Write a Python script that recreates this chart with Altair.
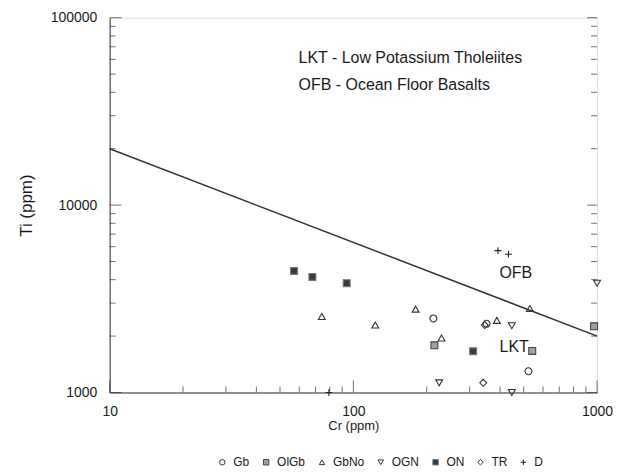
import altair as alt
import pandas as pd

# ---- data ----
types = ["Gb", "OlGb", "GbNo", "OGN", "ON", "TR", "D"]

gb_cr = [213, 352, 523]
gb_ti = [2484, 2327, 1298]
olgb_cr = [215, 542, 972]
olgb_ti = [1785, 1667, 2254]
gbno_cr = [74.2, 123, 180, 230, 388, 530]
gbno_ti = [2546, 2292, 2786, 1954, 2426, 2806]
ogn_cr = [225, 447, 447, 1000]
ogn_ti = [1126, 2270, 1000, 3832]
on_cr = [57.1, 67.9, 93.9, 310]
on_ti = [4456, 4140, 3832, 1658]
tr_cr = [341, 346]
tr_ti = [1126, 2290]
d_cr = [79.4, 392, 433]
d_ti = [1000, 5718, 5470]

# discriminant line LKT / OFB
line_cr = [10, 1000]
line_ti = [20000, 2000]

# axis tick values
x_major = [10, 100, 1000]
x_minor = [20, 30, 40, 50, 60, 70, 80, 90, 200, 300, 400, 500, 600, 700, 800, 900]
y_major = [1000, 10000, 100000]
y_minor = [2000, 3000, 4000, 5000, 6000, 7000, 8000, 9000,
           20000, 30000, 40000, 50000, 60000, 70000, 80000, 90000]

# annotations
note_text = ["LKT - Low Potassium Tholeiites", "OFB - Ocean Floor Basalts"]
note_cr = [59.6, 59.6]
note_ti = [61200, 44000]
field_text = ["OFB", "LKT"]
field_cr = [464, 457]
field_ti = [4365, 1750]

series = [
    ("Gb", gb_cr, gb_ti), ("OlGb", olgb_cr, olgb_ti), ("GbNo", gbno_cr, gbno_ti),
    ("OGN", ogn_cr, ogn_ti), ("ON", on_cr, on_ti), ("TR", tr_cr, tr_ti), ("D", d_cr, d_ti),
]
rows = []
for name, crs, tis in series:
    for c, t in zip(crs, tis):
        rows.append({"type": name, "Cr": c, "Ti": t})
pts = pd.DataFrame(rows)

FONT = "Liberation Sans"
INK = "#1a1a1a"

xs = alt.Scale(type="log", domain=[10, 1000], nice=False)
ys = alt.Scale(type="log", domain=[1000, 100000], nice=False)

shapes = ["circle", "square", "triangle-up", "triangle-down", "square", "diamond",
          "M-1,0L1,0M0,-1L0,1"]
fills = ["transparent", "#a0a0a0", "transparent", "transparent", "#3a3a3a",
         "transparent", "transparent"]
strokes = ["#333333", "#444444", "#333333", "#333333", "#777777", "#333333", "#222222"]

points = alt.Chart(pts).mark_point(size=48, strokeWidth=1.1, opacity=1, clip=False).encode(
    x=alt.X("Cr:Q", scale=xs,
            axis=alt.Axis(values=x_major, format="d", ticks=False, grid=False,
                          labelPadding=12, labelFontSize=14, labelFont=FONT,
                          labelColor=INK, title="Cr  (ppm)", titleFontSize=13,
                          titleFont=FONT, titleColor=INK, titleFontWeight="normal",
                          titlePadding=1, domainColor="#333", labelFlush=False)),
    y=alt.Y("Ti:Q", scale=ys,
            axis=alt.Axis(values=y_major, format="d", ticks=False, grid=False,
                          labelPadding=13, labelFontSize=14, labelFont=FONT,
                          labelColor=INK, title="Ti  (ppm)", titleFontSize=17,
                          titleFont=FONT, titleColor=INK, titleFontWeight="normal",
                          titlePadding=15, domainColor="#333", labelFlush=False)),
    shape=alt.Shape("type:N", scale=alt.Scale(domain=types, range=shapes),
                    legend=alt.Legend(title=None, orient="none", legendX=107, legendY=440,
                                      direction="horizontal", columns=7, symbolSize=30,
                                      symbolStrokeWidth=1, labelFontSize=12, labelFont=FONT,
                                      labelColor=INK, labelOffset=5, columnPadding=10,
                                      gridAlign="none", padding=0)),
    fill=alt.Fill("type:N", scale=alt.Scale(domain=types, range=fills)),
    stroke=alt.Stroke("type:N", scale=alt.Scale(domain=types, range=strokes)),
)

line = alt.Chart(pd.DataFrame({"Cr": line_cr, "Ti": line_ti})).mark_line(
    color="#333", strokeWidth=1.5).encode(x=alt.X("Cr:Q", scale=xs), y=alt.Y("Ti:Q", scale=ys))

notes = alt.Chart(pd.DataFrame({"t": note_text, "Cr": note_cr, "Ti": note_ti})).mark_text(
    align="left", baseline="middle", font=FONT, fontSize=16, color=INK).encode(
    x=alt.X("Cr:Q", scale=xs), y=alt.Y("Ti:Q", scale=ys), text="t:N")

fields = alt.Chart(pd.DataFrame({"t": field_text, "Cr": field_cr, "Ti": field_ti})).mark_text(
    align="center", baseline="middle", font=FONT, fontSize=16, color=INK).encode(
    x=alt.X("Cr:Q", scale=xs), y=alt.Y("Ti:Q", scale=ys), text="t:N")

ymaj = pd.DataFrame({"v": y_major})
ymin = pd.DataFrame({"v": y_minor})
xmaj = pd.DataFrame({"v": x_major})
xmin = pd.DataFrame({"v": x_minor})

def ytick(df, at, size, off):
    return alt.Chart(df).mark_tick(orient="horizontal", size=size, thickness=1,
                                   color="#333", xOffset=off, clip=False).encode(
        x=alt.datum(at, scale=xs), y=alt.Y("v:Q", scale=ys))

def xtick(df, size, off):
    return alt.Chart(df).mark_tick(orient="vertical", size=size, thickness=1,
                                   color="#333", yOffset=off, clip=False).encode(
        x=alt.X("v:Q", scale=xs), y=alt.datum(1000, scale=ys))

ticks = [
    ytick(ymaj, 10, 12, 6), ytick(ymin, 10, 6, 3),
    ytick(ymaj, 1000, 10, -5), ytick(ymin, 1000, 6, -3),
    xtick(xmaj, 12, -6), xtick(xmin, 6, -3),
]

chart = alt.layer(*ticks, line, notes, fields, points).properties(
    width=489, height=376,
    autosize=alt.AutoSizeParams(type="none"),
    padding={"left": 102, "top": 9, "right": 20, "bottom": 78},
).configure_view(stroke="#333", strokeWidth=1).configure(background="white")

chart.save("out.html", embed_options={"renderer": "svg", "actions": False})
